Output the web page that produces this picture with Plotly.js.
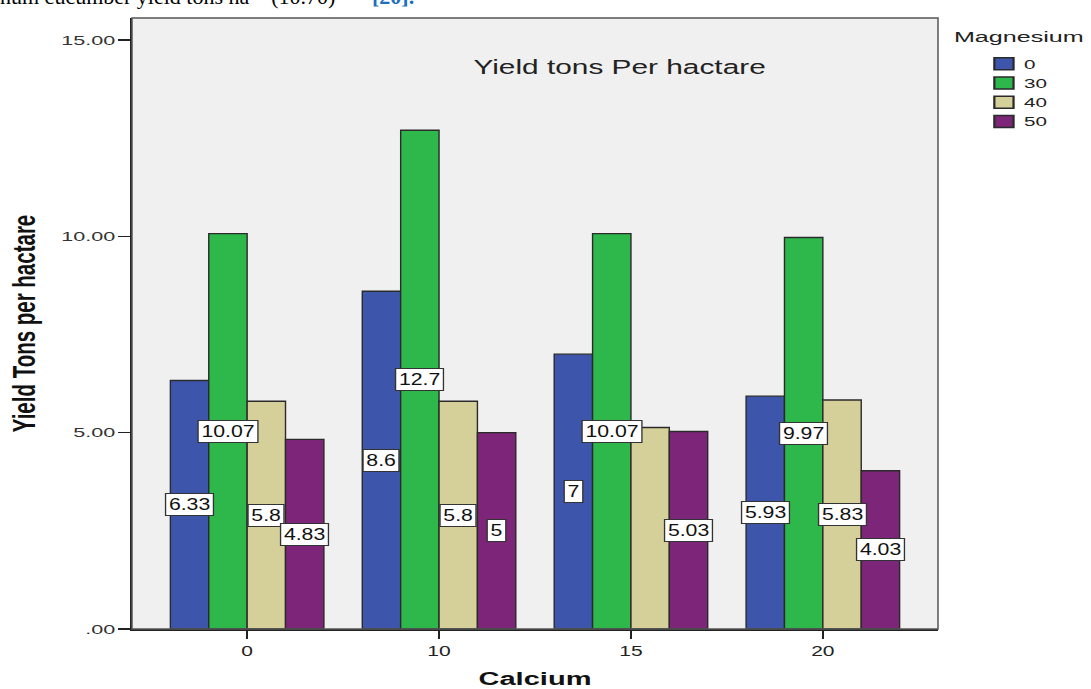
<!DOCTYPE html>
<html>
<head>
<meta charset="utf-8">
<script src="https://cdn.plot.ly/plotly-3.0.1.min.js"></script>
<style>
  html, body { margin: 0; padding: 0; background: #ffffff; }
  #chart { width: 1091px; height: 689px; }
</style>
</head>
<body>
<div id="chart"></div>
<script>
// Calcium levels on the x axis, one bar per magnesium level
const calcium = ['0', '10', '15', '20'];
const magnesium = ['0', '30', '40', '50'];

// Yield (tons per hectare) for each magnesium level across calcium levels
const mg0 = [6.33, 8.6, 7, 5.93];
const mg30 = [10.07, 12.7, 10.07, 9.97];
const mg40 = [5.8, 5.8, 5.13, 5.83];
const mg50 = [4.83, 5, 5.03, 4.03];

// Value labels printed on the bars (null = no label shown)
const labels0 = ['6.33', '8.6', '7', '5.93'];
const labels30 = ['10.07', '12.7', '10.07', '9.97'];
const labels40 = ['5.8', '5.8', null, '5.83'];
const labels50 = ['4.83', '5', '5.03', '4.03'];

const yTickVals = [0, 5, 10, 15];
const yTickText = ['.00', '5.00', '10.00', '15.00'];

const series = [mg0, mg30, mg40, mg50];
const seriesLabels = [labels0, labels30, labels40, labels50];
const colors = ['#3d56ab', '#2eb84b', '#d5d09a', '#7d2679'];

const SANS = 'Arial, Liberation Sans, sans-serif';
const SERIF = 'Liberation Serif, Times New Roman, serif';

const traces = series.map((vals, i) => ({
  type: 'bar',
  name: magnesium[i],
  x: calcium,
  y: vals,
  marker: { color: colors[i], line: { color: '#2a2a2a', width: 1.4 } },
  hoverinfo: 'x+y+name'
}));

// Each annotation carries a horizontal stretch factor and the point it stretches from
const annotations = [];
const stretch = [];
const offsets = [-0.3, -0.1, 0.1, 0.3];
series.forEach((vals, s) => {
  vals.forEach((v, c) => {
    const txt = seriesLabels[s][c];
    if (txt === null) return;
    annotations.push({
      xref: 'x', yref: 'y',
      x: c + offsets[s], y: v / 2,
      text: txt, showarrow: false,
      font: { family: SANS, size: 16, color: '#111' },
      bgcolor: '#ffffff', bordercolor: '#333333', borderwidth: 1, borderpad: 2
    });
    stretch.push([1.33, 'middle']);
  });
});

// Title inside the plot frame
annotations.push({
  xref: 'paper', yref: 'paper', x: 0.605, y: 0.92,
  xanchor: 'center', yanchor: 'middle',
  text: 'Yield tons Per hactare', showarrow: false,
  font: { family: SANS, size: 19.5, color: '#222' }
});
stretch.push([1.53, 'middle']);

// Legend heading
annotations.push({
  xref: 'paper', yref: 'paper', x: 1.016, y: 0.9705,
  xanchor: 'left', yanchor: 'middle',
  text: 'Magnesium', showarrow: false,
  font: { family: SANS, size: 15.5, color: '#222' }
});
stretch.push([1.62, 'start']);

// Running text from the page above the figure
annotations.push({
  xref: 'paper', yref: 'paper', x: -0.166, y: 1.012,
  xanchor: 'left', yanchor: 'bottom',
  text: 'num cucumber yield tons ha<sup>−1</sup> (10.70)', showarrow: false,
  font: { family: SERIF, size: 22, color: '#000' }
});
stretch.push([1, 'start']);
annotations.push({
  xref: 'paper', yref: 'paper', x: 0.295, y: 1.012,
  xanchor: 'left', yanchor: 'bottom',
  text: '<b>[20].</b>', showarrow: false,
  font: { family: SERIF, size: 22, color: '#1a6fc0' }
});
stretch.push([1, 'start']);

const layout = {
  width: 1091, height: 689,
  margin: { l: 132, r: 153, t: 18, b: 60 },
  paper_bgcolor: '#ffffff',
  plot_bgcolor: '#f0f0f0',
  barmode: 'group',
  bargap: 0.2,
  bargroupgap: 0,
  showlegend: true,
  legend: {
    x: 1.057, y: 0.949, xanchor: 'left', yanchor: 'top',
    font: { family: SANS, size: 12.5, color: '#222' },
    bgcolor: 'rgba(0,0,0,0)',
    tracegroupgap: 0
  },
  xaxis: {
    type: 'category',
    range: [-0.6, 3.6],
    ticks: 'outside', ticklen: 8, tickcolor: '#222', tickwidth: 1.5,
    showline: true, linecolor: '#222', linewidth: 2,
    showgrid: false, zeroline: false,
    tickfont: { family: SANS, size: 14.5, color: '#222' },
    title: { text: '<b>Calcium</b>', standoff: 24,
      font: { family: SANS, size: 19, color: '#111' } }
  },
  yaxis: {
    range: [0, 15.56],
    tickvals: yTickVals, ticktext: yTickText,
    ticks: 'outside', ticklen: 12, tickcolor: '#222', tickwidth: 1.5,
    showline: true, linecolor: '#222', linewidth: 2,
    showgrid: false, zeroline: false,
    tickfont: { family: SANS, size: 13.5, color: '#333' },
    title: { text: '<b>Yield Tons per hactare</b>', standoff: 44,
      font: { family: SANS, size: 20.5, color: '#111' } }
  },
  shapes: [{
    type: 'rect', xref: 'paper', yref: 'paper', x0: 0, x1: 1, y0: 0, y1: 1,
    line: { color: '#555', width: 1.5 }, fillcolor: 'rgba(0,0,0,0)', layer: 'above'
  }],
  annotations: annotations
};

// Widen an svg element horizontally about one of its edges or its centre
function stretchX(el, s, anchor) {
  if (!el || s === 1) return;
  const r = el.getBoundingClientRect();
  const ax = anchor === 'start' ? r.left : anchor === 'end' ? r.right : (r.left + r.right) / 2;
  const m = el.parentNode.getScreenCTM().inverse();
  const lx = new DOMPoint(ax, r.top).matrixTransform(m).x;
  const old = el.getAttribute('transform') || '';
  el.setAttribute('transform', `translate(${lx},0) scale(${s},1) translate(${-lx},0) ${old}`);
}

const gd = document.getElementById('chart');
Plotly.newPlot(gd, traces, layout, { displayModeBar: false, staticPlot: true }).then(() => {
  gd.querySelectorAll('.ytick text').forEach(t => stretchX(t, 1.6, 'end'));
  gd.querySelectorAll('.xtick text').forEach(t => stretchX(t, 1.45, 'middle'));
  stretchX(gd.querySelector('.xtitle'), 1.53, 'middle');
  stretchX(gd.querySelector('.ytitle'), 1.5, 'middle');
  // the widened legend entries need room beyond the legend's own clip box
  gd.querySelectorAll('.legend .scrollbox').forEach(b => b.removeAttribute('clip-path'));
  gd.querySelectorAll('.legend .legendtext').forEach(t => stretchX(t, 1.65, 'start'));
  gd.querySelectorAll('.legend .legendpoints').forEach(p => stretchX(p, 1.6, 'middle'));
  gd.querySelectorAll('.annotation').forEach(a => {
    const i = +a.getAttribute('data-index');
    const g = a.querySelector('.annotation-text-g');
    if (stretch[i]) stretchX(g, stretch[i][0], stretch[i][1]);
  });
});
</script>
</body>
</html>
